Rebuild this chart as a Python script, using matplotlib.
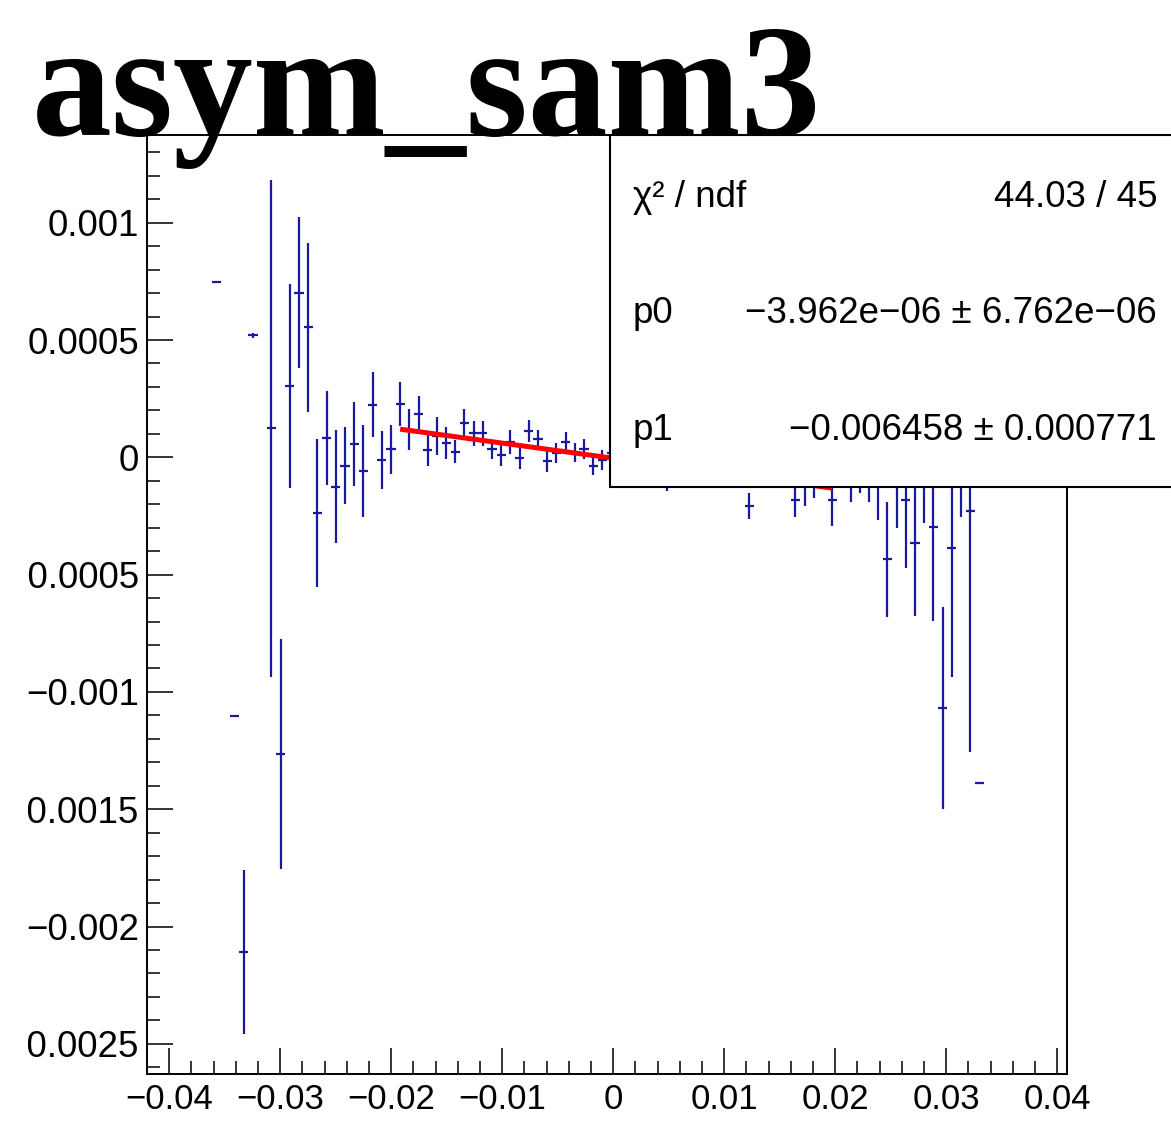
import numpy as np
import matplotlib
matplotlib.use("Agg")
import matplotlib.pyplot as plt
from matplotlib.ticker import FixedLocator, FixedFormatter, MultipleLocator
from matplotlib.patches import Rectangle
from matplotlib.transforms import Bbox, TransformedBbox

# histogram layout (100 bins)
hist_lo, hist_hi, nbins = -0.04198, 0.04085, 100

# bin contents (nan = empty bin)
nan = np.nan
asym = [
    nan, nan, nan, nan, nan, nan, nan, 0.000747, nan, -0.001104,
    -0.00211, 0.00052, nan, 0.000123, -0.001263, 0.000305, 0.000702, 0.000554, -0.000238, 0.000081,
    -0.000125, -0.000036, 0.000057, -0.000058, 0.000225, -0.000012, 0.000034, 0.000227, 0.000118, 0.000183,
    0.000031, 0.00009, 0.00006, 0.000024, 0.000147, 0.000102, 0.000102, 0.000034, 0.00001, 0.000066,
    -0.000004, 0.000113, 0.000077, -0.000015, 0.000017, 0.000066, 0.00002, 0.000034, -0.000037, -0.000012,
    0.00002, -0.00003, 0.00001, -0.00004, -0.00001, -0.00005, -0.00009, -0.00002, -0.00006, -0.00003,
    -0.00005, -0.00004, -0.00006, -0.00003, -0.00004, -0.000207, -0.00004, -0.00005, -0.00002, -0.00003,
    -0.000182, -0.000107, -0.000094, -0.00005, -0.000182, -0.00003, -0.000089, -0.000063, -0.000069, -0.0001,
    -0.000434, -0.000102, -0.000182, -0.000366, -0.00008, -0.000298, -0.001068, -0.000387, -0.000005, -0.000227,
    -0.001387, nan, nan, nan, nan, nan, nan, nan, nan, nan,
]
asym_err = [
    0, 0, 0, 0, 0, 0, 0, 0, 0, 0,
    0.00035, 0.00001, 0, 0.00106, 0.00049, 0.000435, 0.000322, 0.00036, 0.000316, 0.0002,
    0.00024, 0.000164, 0.00018, 0.000195, 0.00014, 0.000123, 0.000105, 0.000095, 0.000087, 0.000077,
    0.000068, 0.00008, 0.000068, 0.00005, 0.000058, 0.000053, 0.000055, 0.00004, 0.000046, 0.00005,
    0.000046, 0.000046, 0.000041, 0.000046, 0.000043, 0.000043, 0.000039, 0.000043, 0.000039, 0.000043,
    0.000045, 0.000045, 0.00005, 0.00005, 0.00005, 0.000055, 0.000052, 0.00006, 0.00006, 0.00006,
    0.000065, 0.00007, 0.00006, 0.00008, 0.00008, 0.000055, 0.00008, 0.00007, 0.0001, 0.00009,
    0.000073, 0.0001, 0.00008, 0.00007, 0.00011, 0.00009, 0.0001, 0.00009, 0.00012, 0.000167,
    0.000245, 0.0002, 0.00029, 0.00031, 0.0002, 0.0004, 0.00043, 0.00055, 0.00025, 0.00103,
    0, 0, 0, 0, 0, 0, 0, 0, 0, 0,
]

# linear fit result shown in the stats box
p0, p0_err = -3.962e-06, 6.762e-06
p1, p1_err = -0.006458, 0.000771
chi2, ndf = 44.03, 45
fit_lo, fit_hi = -0.0192, 0.0197

xticks = [-0.04, -0.03, -0.02, -0.01, 0, 0.01, 0.02, 0.03, 0.04]
xtick_labels = ['\u22120.04', '\u22120.03', '\u22120.02', '\u22120.01', '0', '0.01', '0.02', '0.03', '0.04']
yticks = [0.001, 0.0005, 0, -0.0005, -0.001, -0.0015, -0.002, -0.0025]
ytick_labels = ['0.001', '0.0005', '0', '\u22120.0005', '\u22120.001', '\u22120.0015', '\u22120.002', '\u22120.0025']

edges = np.linspace(hist_lo, hist_hi, nbins + 1)
centers = 0.5 * (edges[:-1] + edges[1:])
half_w = 0.5 * (edges[1] - edges[0])

plt.rcParams['font.family'] = ['Liberation Sans', 'DejaVu Sans']

fig = plt.figure(figsize=(11.71, 11.44), dpi=100)
ax = fig.add_axes([0.1258, 0.0609, 0.7851, 0.8211])

ax.errorbar(centers, asym, yerr=asym_err, xerr=half_w, fmt='none',
            ecolor='#1a1a9e', elinewidth=1.6, capsize=0, zorder=2)

xf = np.array([fit_lo, fit_hi])
ax.plot(xf, p0 + p1 * xf, color='red', lw=3.6, zorder=3, solid_capstyle='butt')

ax.set_xlim(hist_lo, hist_hi)
ax.set_ylim(-0.00263, 0.001374)

ax.xaxis.set_major_locator(FixedLocator(xticks))
ax.xaxis.set_major_formatter(FixedFormatter(xtick_labels))
ax.xaxis.set_minor_locator(MultipleLocator(0.002))
ax.yaxis.set_major_locator(FixedLocator(yticks))
ax.yaxis.set_major_formatter(FixedFormatter(ytick_labels))
ax.yaxis.set_minor_locator(MultipleLocator(0.0001))

ax.tick_params(which='both', direction='in', top=False, right=False, width=1.1, color='black')
ax.tick_params(which='major', length=18.5)
ax.tick_params(which='minor', length=9.2)
ax.tick_params(axis='y', which='major', labelsize=26.5, pad=6)
ax.tick_params(axis='x', which='major', labelsize=25, pad=6)
for s in ax.spines.values():
    s.set_linewidth(1.4)

# y labels are cut off at the pad edge, as in the original canvas
pad_clip = TransformedBbox(Bbox([[28 / 1171, 0], [1, 1]]), fig.transFigure)
for t in ax.yaxis.get_major_ticks():
    t.label1.set_clip_on(True)
    t.label1.set_clip_box(pad_clip)

# title
fig.text(0.027, 1 - 135 / 1144, 'asym_sam3', fontsize=115, family='Liberation Serif',
         weight='bold', va='baseline', ha='left', zorder=5)

# stats box
box = Rectangle((610 / 1171, 1 - 487 / 1144), 0.5, (487 - 135) / 1144, transform=fig.transFigure,
                facecolor='white', edgecolor='black', lw=1.5, zorder=6)
fig.add_artist(box)
rows = [
    ('\u03c7\u00b2 / ndf', f'{chi2:.2f} / {ndf}', 207),
    ('p0', '\u22123.962e\u221206 \u00b1 6.762e\u221206', 323),
    ('p1', '\u22120.006458 \u00b1 0.000771', 440),
]
for name, val, ypx in rows:
    fig.text(633 / 1171, 1 - ypx / 1144, name, fontsize=26.5, va='baseline', ha='left', zorder=7)
    fig.text(1157 / 1171, 1 - ypx / 1144, val, fontsize=26.5, va='baseline', ha='right', zorder=7)

fig.savefig('out.png', dpi=100)
